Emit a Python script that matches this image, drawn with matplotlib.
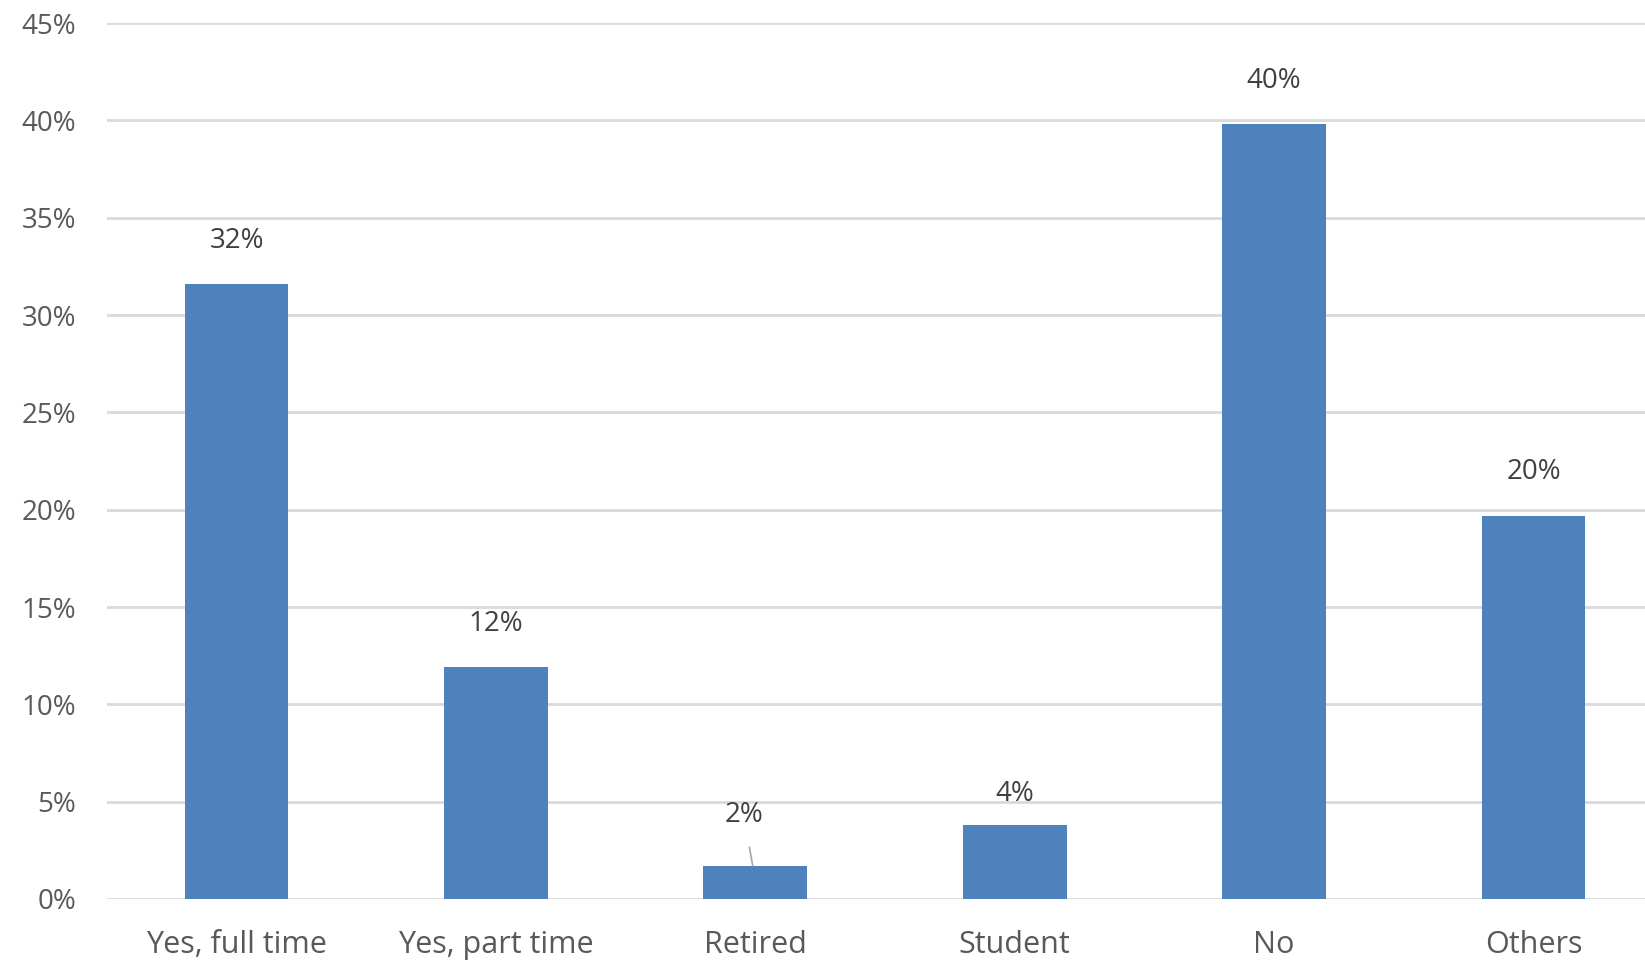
import matplotlib.pyplot as plt
from matplotlib.ticker import PercentFormatter

# survey shares (in %)
categories = ['Yes, full time', 'Yes, part time', 'Retired', 'Student', 'No', 'Others']
values = [31.6, 11.9, 1.7, 3.8, 39.8, 19.7]
labels = ['32%', '12%', '2%', '4%', '40%', '20%']

plt.rcParams['font.family'] = ['Open Sans', 'DejaVu Sans']

fig = plt.figure(figsize=(16.45, 9.63), dpi=100)
ax = fig.add_axes([0.065, 0.0665, 0.935, 0.9095])

x = range(len(categories))
bars = ax.bar(x, values, width=0.40, color='#4F81BD', zorder=3)

# data labels above bars; the tiny "Retired" one gets a leader line
for i, (b, lab) in enumerate(zip(bars, labels)):
    h = b.get_height()
    if i == 2:
        ax.annotate(lab, xy=(i - 0.01, h), xytext=(i - 0.045, 4.3),
                    ha='center', va='center', fontsize=20, color='#404040',
                    arrowprops=dict(arrowstyle='-', color='#A6A6A6', lw=1.2,
                                    shrinkA=11, shrinkB=0))
    else:
        off = 22 if i == 3 else 31
        ax.annotate(lab, xy=(i, h), xytext=(0, off), textcoords='offset points',
                    ha='center', va='center', fontsize=20, color='#404040')

ax.set_xlim(-0.5, 5.43)
ax.set_ylim(0, 45)
ax.set_yticks(range(0, 46, 5))
ax.yaxis.set_major_formatter(PercentFormatter(decimals=0))
ax.set_xticks(list(x))
ax.set_xticklabels(categories)

ax.grid(axis='y', color='#D9D9D9', lw=2, zorder=0)
for s in ax.spines.values():
    s.set_visible(False)
ax.tick_params(axis='both', length=0, colors='#595959')
ax.tick_params(axis='y', labelsize=20, pad=22)
ax.tick_params(axis='x', labelsize=22, pad=22)

fig.savefig('out.png', dpi=100)
